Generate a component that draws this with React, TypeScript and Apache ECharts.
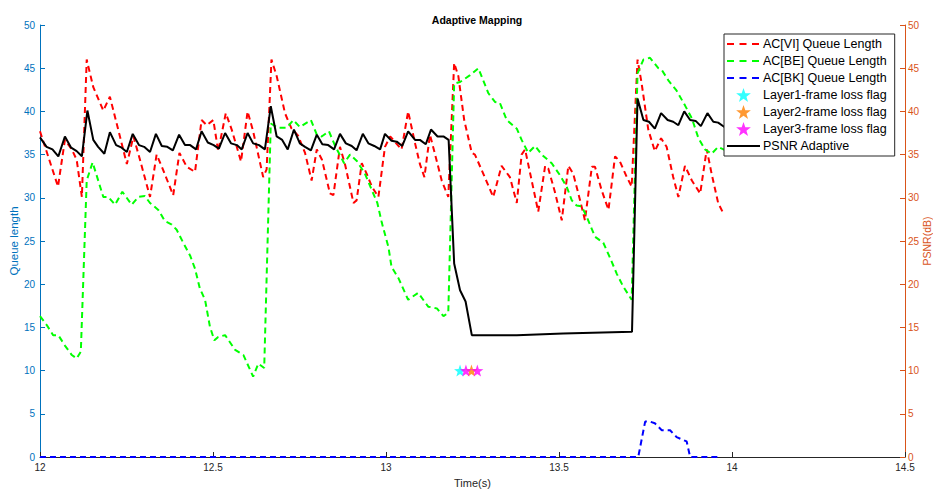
import React, { useEffect, useRef } from "react";
import * as echarts from "echarts";

const xTicks = ["12", "12.5", "13", "13.5", "14", "14.5"];

const viTime = [12.0, 12.052, 12.072, 12.092, 12.106, 12.121, 12.135, 12.154, 12.183, 12.202, 12.226, 12.251, 12.27, 12.289, 12.318, 12.337, 12.352, 12.385, 12.403, 12.424, 12.448, 12.467, 12.482, 12.501, 12.515, 12.537, 12.554, 12.581, 12.6, 12.616, 12.645, 12.655, 12.669, 12.684, 12.708, 12.727, 12.746, 12.766, 12.785, 12.8, 12.815, 12.838, 12.848, 12.867, 12.882, 12.906, 12.915, 12.93, 12.944, 12.959, 12.978, 12.997, 13.012, 13.021, 13.045, 13.064, 13.084, 13.098, 13.111, 13.127, 13.142, 13.161, 13.18, 13.197, 13.209, 13.226, 13.248, 13.257, 13.281, 13.31, 13.334, 13.358, 13.378, 13.392, 13.402, 13.421, 13.44, 13.46, 13.469, 13.488, 13.508, 13.527, 13.541, 13.561, 13.575, 13.595, 13.604, 13.623, 13.643, 13.662, 13.676, 13.696, 13.71, 13.727, 13.739, 13.758, 13.777, 13.795, 13.811, 13.83, 13.845, 13.864, 13.884, 13.908, 13.927, 13.941, 13.96, 13.975];
const viValue = [37.7, 31.3, 36.7, 35.6, 34.4, 30.1, 46.0, 42.8, 40.1, 41.7, 37.9, 33.9, 37.1, 34.4, 30.1, 35.0, 33.6, 30.3, 35.2, 33.6, 33.0, 39.0, 38.4, 39.0, 35.4, 39.8, 37.9, 34.2, 40.0, 37.7, 32.4, 33.3, 46.0, 44.1, 39.8, 38.0, 37.2, 35.2, 32.0, 35.6, 34.4, 30.5, 30.3, 35.9, 33.8, 29.4, 29.7, 34.0, 32.8, 31.3, 30.1, 35.9, 37.1, 36.7, 35.6, 40.0, 36.3, 33.9, 32.4, 37.3, 35.0, 32.0, 30.1, 45.6, 44.1, 39.0, 35.2, 35.0, 32.8, 30.1, 33.7, 32.4, 29.4, 35.0, 35.6, 32.0, 28.4, 33.7, 33.4, 30.7, 27.4, 33.7, 32.8, 29.7, 27.4, 33.6, 33.6, 30.9, 28.6, 34.8, 34.2, 32.4, 31.3, 46.0, 43.2, 37.9, 35.4, 36.9, 35.9, 32.4, 30.1, 33.7, 32.0, 30.5, 35.6, 32.8, 29.4, 28.2];

const beTime = [12.0, 12.019, 12.038, 12.053, 12.072, 12.092, 12.106, 12.118, 12.135, 12.152, 12.183, 12.197, 12.217, 12.238, 12.265, 12.284, 12.303, 12.318, 12.342, 12.361, 12.381, 12.395, 12.414, 12.434, 12.448, 12.462, 12.477, 12.491, 12.504, 12.515, 12.535, 12.564, 12.588, 12.616, 12.631, 12.648, 12.66, 12.667, 12.688, 12.713, 12.732, 12.751, 12.783, 12.8, 12.814, 12.835, 12.853, 12.879, 12.896, 12.915, 12.939, 12.959, 12.975, 12.988, 13.007, 13.016, 13.036, 13.064, 13.093, 13.122, 13.147, 13.166, 13.18, 13.197, 13.214, 13.243, 13.267, 13.296, 13.315, 13.329, 13.349, 13.378, 13.392, 13.411, 13.431, 13.45, 13.479, 13.503, 13.522, 13.537, 13.551, 13.566, 13.58, 13.604, 13.628, 13.647, 13.667, 13.686, 13.71, 13.727, 13.744, 13.763, 13.787, 13.797, 13.816, 13.84, 13.864, 13.884, 13.903, 13.922, 13.941, 13.96, 13.997];
const beValue = [16.3, 15.3, 14.1, 14.1, 12.9, 11.8, 11.4, 12.2, 32.0, 34.1, 30.1, 30.1, 29.2, 30.7, 29.2, 30.1, 30.2, 29.4, 28.6, 27.3, 26.9, 26.3, 24.8, 23.3, 21.8, 19.5, 18.2, 15.1, 13.5, 13.9, 14.1, 12.4, 11.8, 9.3, 10.8, 10.3, 28.2, 38.6, 38.1, 38.1, 39.0, 38.2, 39.0, 37.3, 37.1, 37.7, 36.0, 34.0, 35.0, 34.3, 32.8, 30.9, 29.4, 27.1, 24.3, 22.0, 20.7, 18.2, 19.0, 17.4, 17.2, 16.3, 16.7, 43.2, 43.4, 44.2, 45.0, 42.1, 41.1, 41.0, 39.0, 38.0, 36.7, 35.2, 36.0, 35.0, 34.0, 32.6, 31.3, 29.7, 29.1, 29.0, 27.8, 25.5, 24.8, 23.1, 21.2, 19.7, 18.2, 44.4, 46.0, 46.2, 45.0, 44.8, 43.6, 42.4, 40.7, 39.2, 36.9, 35.6, 35.1, 35.9, 35.2];

const bkTime = [12.0, 13.729, 13.749, 13.763, 13.777, 13.797, 13.821, 13.84, 13.869, 13.879, 13.965];
const bkValue = [0, 0, 4.1, 4.1, 3.9, 3.1, 3.1, 2.3, 1.8, 0, 0];

const layer1Time = [13.214];
const layer1Value = [10];
const layer2Time = [13.247];
const layer2Value = [10];
const layer3Time = [13.231, 13.264];
const layer3Value = [10, 10];

const psnrTime = [12.0, 12.019, 12.036, 12.053, 12.072, 12.09, 12.106, 12.121, 12.137, 12.154, 12.168, 12.186, 12.202, 12.22, 12.236, 12.251, 12.268, 12.286, 12.301, 12.318, 12.335, 12.352, 12.368, 12.384, 12.402, 12.419, 12.434, 12.451, 12.467, 12.485, 12.502, 12.517, 12.535, 12.552, 12.569, 12.583, 12.6, 12.616, 12.633, 12.65, 12.667, 12.684, 12.7, 12.716, 12.734, 12.751, 12.766, 12.783, 12.8, 12.816, 12.833, 12.85, 12.867, 12.884, 12.901, 12.915, 12.933, 12.949, 12.966, 12.983, 12.997, 13.016, 13.031, 13.047, 13.064, 13.084, 13.098, 13.115, 13.13, 13.149, 13.166, 13.181, 13.197, 13.214, 13.23, 13.248, 13.378, 13.512, 13.711, 13.727, 13.744, 13.76, 13.777, 13.795, 13.814, 13.83, 13.845, 13.862, 13.879, 13.895, 13.91, 13.929, 13.946, 13.96, 13.978, 13.997];
const psnrValue = [37.0, 35.9, 35.6, 34.8, 37.1, 35.8, 35.4, 34.8, 40.1, 36.7, 35.9, 35.1, 37.6, 36.1, 35.8, 35.3, 37.4, 36.1, 35.9, 35.3, 37.4, 36.0, 35.9, 35.5, 37.3, 36.1, 36.1, 35.6, 37.7, 36.4, 36.1, 35.7, 37.5, 36.3, 36.1, 35.6, 37.5, 36.3, 36.1, 35.6, 40.6, 37.1, 36.7, 35.6, 37.9, 36.3, 35.9, 35.5, 37.3, 36.2, 36.1, 35.6, 37.4, 36.3, 36.0, 35.5, 37.4, 36.3, 36.0, 35.6, 37.4, 36.6, 36.5, 36.0, 37.7, 36.7, 36.7, 36.2, 37.9, 37.1, 37.1, 36.7, 22.4, 19.3, 18.0, 14.1, 14.1, 14.3, 14.5, 41.5, 39.0, 38.8, 38.0, 39.8, 39.0, 38.8, 38.4, 40.0, 39.0, 38.9, 38.3, 39.8, 38.8, 38.7, 38.2, 38.2];

const zip = (t: number[], v: number[]) => t.map((x, i) => [x, v[i]]);

const FONT = "'Liberation Sans', Arial, Helvetica, sans-serif";
const LEFT_C = "#0072BD";
const RIGHT_C = "#D95319";
const AX_C = "#262626";

const STAR =
  "path://M0,-10 L2.35,-3.24 L9.51,-3.09 L3.8,1.24 L5.88,8.09 L0,4 L-5.88,8.09 L-3.8,1.24 L-9.51,-3.09 L-2.35,-3.24 Z";
const DASH_ICON =
  "path://M0,0 M0,6 L7,6 L7,8 L0,8 Z M12.5,6 L19.5,6 L19.5,8 L12.5,8 Z M25,6 L32,6 L32,8 L25,8 Z M33,14";
const SOLID_ICON = "path://M0,0 M0,6 L33,6 L33,8 L0,8 Z M33,14";

export default function App() {
  const ref = useRef<HTMLDivElement>(null);
  useEffect(() => {
    if (!ref.current) return;
    const chart = echarts.init(ref.current, undefined, { renderer: "svg" });
    const dash = [6, 4];
    const option: any = {
      animation: false,
      backgroundColor: "#ffffff",
      textStyle: { fontFamily: FONT },
      title: {
        text: "Adaptive Mapping",
        left: 472,
        textAlign: "center",
        top: 9,
        textStyle: { fontSize: 10.5, fontWeight: "bold", color: "#000", fontFamily: FONT },
      },
      grid: { left: 40, right: 28, top: 25, bottom: 33, containLabel: false, outerBoundsMode: "none" },
      legend: {
        orient: "vertical",
        left: 724,
        top: 34,
        backgroundColor: "#ffffff",
        borderColor: AX_C,
        borderWidth: 1,
        borderRadius: 0,
        padding: [3, 8, 3, 3],
        itemWidth: 33,
        itemHeight: 14,
        itemGap: 3,
        textStyle: { fontSize: 12.5, color: "#000", fontFamily: FONT, padding: [0, 0, 0, -2] },
        data: [
          { name: "AC[VI] Queue Length", icon: DASH_ICON },
          { name: "AC[BE] Queue Length", icon: DASH_ICON },
          { name: "AC[BK] Queue Length", icon: DASH_ICON },
          { name: "Layer1-frame loss flag" },
          { name: "Layer2-frame loss flag" },
          { name: "Layer3-frame loss flag" },
          { name: "PSNR Adaptive", icon: SOLID_ICON },
        ],
      },
      xAxis: {
        type: "value",
        min: 12,
        max: 14.5,
        interval: 0.5,
        name: "Time(s)",
        nameLocation: "middle",
        nameGap: 20,
        nameTextStyle: { fontSize: 11, color: AX_C, fontFamily: FONT },
        axisLine: { show: true, lineStyle: { color: AX_C, width: 1 } },
        axisTick: { show: true, inside: true, length: 5, lineStyle: { color: AX_C } },
        axisLabel: {
          fontSize: 10,
          color: AX_C,
          margin: 5,
          fontFamily: FONT,
          formatter: (v: number) => {
            const i = Math.round((v - 12) / 0.5);
            return xTicks[i] ?? "";
          },
        },
        splitLine: { show: false },
      },
      yAxis: [
        {
          type: "value",
          min: 0,
          max: 50,
          interval: 5,
          position: "left",
          name: "Queue length",
          nameLocation: "middle",
          nameRotate: 90,
          nameGap: 20,
          nameMoveOverlap: false,
          nameTextStyle: { fontSize: 11.5, color: LEFT_C, fontFamily: FONT },
          axisLine: { show: true, lineStyle: { color: LEFT_C, width: 1 } },
          axisTick: { show: true, inside: true, length: 5, lineStyle: { color: LEFT_C } },
          axisLabel: { fontSize: 10, color: LEFT_C, margin: 5, fontFamily: FONT },
          splitLine: { show: false },
        },
        {
          type: "value",
          min: 0,
          max: 50,
          interval: 5,
          position: "right",
          name: "PSNR(dB)",
          nameLocation: "middle",
          nameRotate: 90,
          nameGap: 16,
          nameMoveOverlap: false,
          nameTextStyle: { fontSize: 10.5, color: RIGHT_C, fontFamily: FONT },
          axisLine: { show: true, lineStyle: { color: RIGHT_C, width: 1 } },
          axisTick: { show: true, inside: true, length: 5, lineStyle: { color: RIGHT_C } },
          axisLabel: { fontSize: 10, color: RIGHT_C, margin: 3, fontFamily: FONT },
          splitLine: { show: false },
        },
      ],
      series: [
        {
          name: "AC[VI] Queue Length",
          type: "line",
          data: zip(viTime, viValue),
          showSymbol: false,
          symbol: "none",
          color: "#ff0000",
          lineStyle: { color: "#ff0000", width: 2, type: dash },
        },
        {
          name: "AC[BE] Queue Length",
          type: "line",
          data: zip(beTime, beValue),
          showSymbol: false,
          symbol: "none",
          color: "#00ff00",
          lineStyle: { color: "#00ff00", width: 2, type: dash },
        },
        {
          name: "AC[BK] Queue Length",
          type: "line",
          data: zip(bkTime, bkValue),
          showSymbol: false,
          symbol: "none",
          color: "#0000ff",
          lineStyle: { color: "#0000ff", width: 2, type: dash },
        },
        {
          name: "Layer1-frame loss flag",
          type: "scatter",
          data: zip(layer1Time, layer1Value),
          symbol: STAR,
          symbolSize: 12,
          itemStyle: { color: "#00ffff" },
        },
        {
          name: "Layer2-frame loss flag",
          type: "scatter",
          data: zip(layer2Time, layer2Value),
          symbol: STAR,
          symbolSize: 12,
          itemStyle: { color: "#ff8000" },
        },
        {
          name: "Layer3-frame loss flag",
          type: "scatter",
          data: zip(layer3Time, layer3Value),
          symbol: STAR,
          symbolSize: 12,
          itemStyle: { color: "#ff00ff" },
        },
        {
          name: "PSNR Adaptive",
          type: "line",
          yAxisIndex: 1,
          data: zip(psnrTime, psnrValue),
          showSymbol: false,
          symbol: "none",
          color: "#000000",
          lineStyle: { color: "#000000", width: 2 },
          z: 3,
        },
      ],
    };
    chart.setOption(option);
    return () => chart.dispose();
  }, []);
  return (
    <div
      ref={ref}
      style={{ position: "fixed", left: 0, top: 0, width: 933, height: 490, background: "#fff" }}
    />
  );
}
